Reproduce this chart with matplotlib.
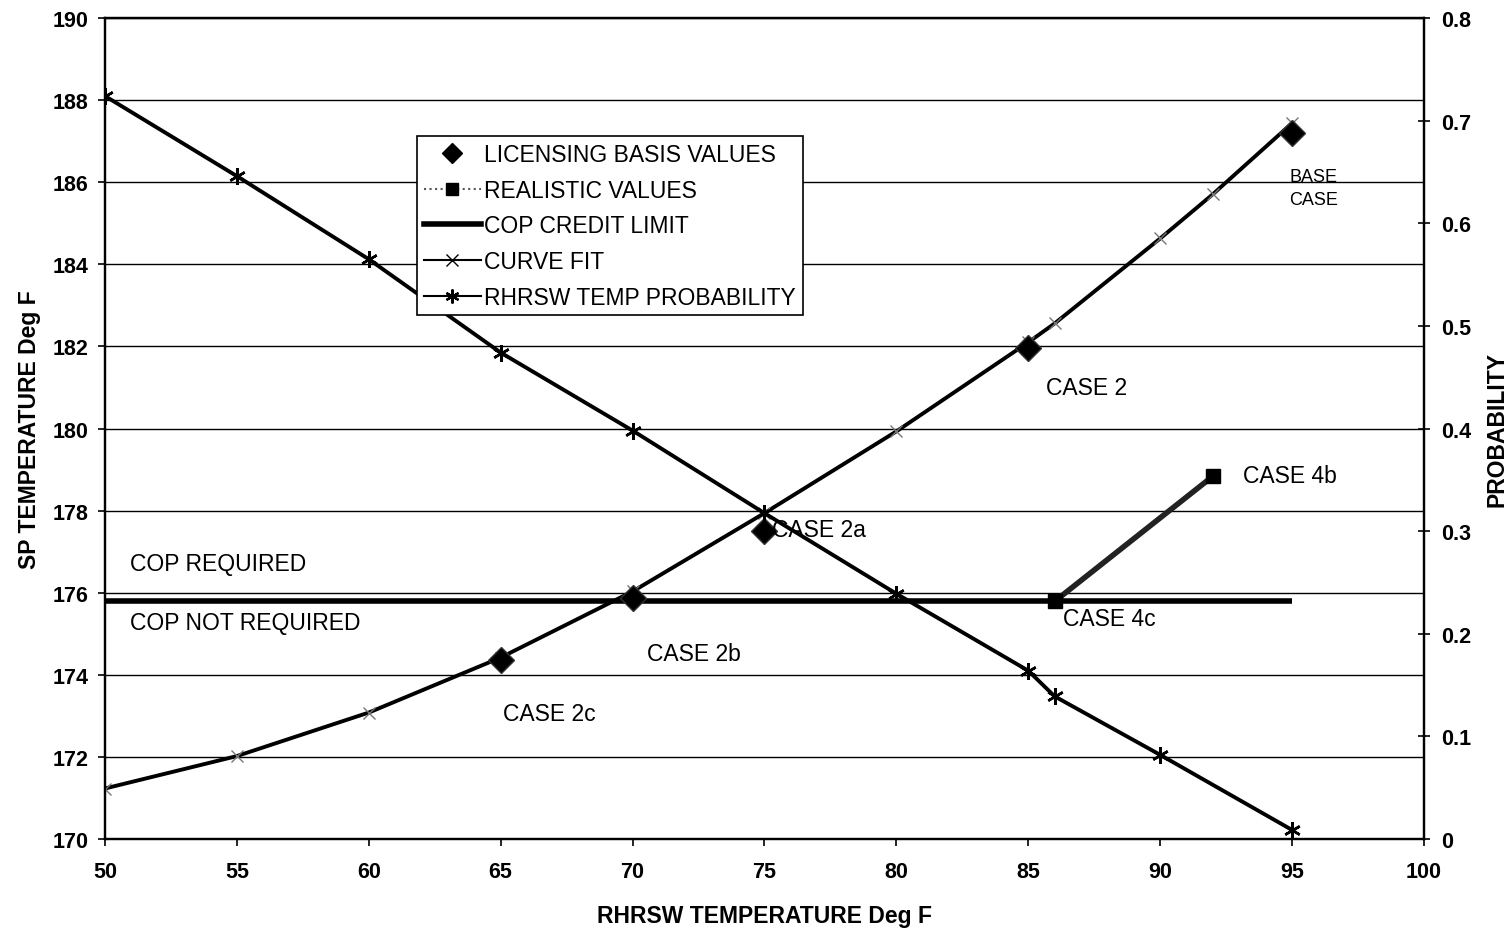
import matplotlib
matplotlib.use("Agg")
import matplotlib.pyplot as plt
from matplotlib.lines import Line2D

plt.rcParams['font.family'] = ['Liberation Sans', 'DejaVu Sans']

# ---- data ----
fit_x = [50, 55, 60, 65, 70, 75, 80, 85, 86, 90, 92, 95]
fit_y = [171.23, 172.02, 173.08, 174.42, 176.03, 177.94, 179.93, 182.1, 182.56, 184.63, 185.71, 187.44]

lic_x = [65, 70, 75, 85, 95]
lic_y = [174.35, 175.87, 177.5, 181.95, 187.2]

real_x = [86, 92]
real_y = [175.79, 178.84]

cop_x = [50, 95]
cop_y = [175.8, 175.8]

prob_x = [50, 55, 60, 65, 70, 75, 80, 85, 86, 90, 95]
prob_y = [0.724, 0.646, 0.565, 0.474, 0.398, 0.3175, 0.239, 0.164, 0.139, 0.082, 0.0088]

x_ticks = [50, 55, 60, 65, 70, 75, 80, 85, 90, 95, 100]
y_ticks = [170, 172, 174, 176, 178, 180, 182, 184, 186, 188, 190]
p_ticks = [0, 0.1, 0.2, 0.3, 0.4, 0.5, 0.6, 0.7, 0.8]
p_labels = ["0", "0.1", "0.2", "0.3", "0.4", "0.5", "0.6", "0.7", "0.8"]

annotations = [
    ("CASE 2", 87.2, 181.0, 'center'),
    ("CASE 4b", 94.9, 178.85, 'center'),
    ("CASE 2a", 75.3, 177.54, 'left'),
    ("COP REQUIRED", 50.95, 176.7, 'left'),
    ("COP NOT REQUIRED", 50.95, 175.27, 'left'),
    ("CASE 4c", 86.3, 175.37, 'left'),
    ("CASE 2b", 72.33, 174.51, 'center'),
    ("CASE 2c", 66.83, 173.05, 'center'),
]

# ---- figure ----
fig = plt.figure(figsize=(15.12, 9.29), dpi=100)
ax = fig.add_axes([0.0694, 0.0958, 0.8724, 0.8837])
ax2 = ax.twinx()

ax.set_xlim(50, 100)
ax.set_ylim(170, 190)
ax2.set_ylim(0, 0.8)

ax.set_xticks(x_ticks)
ax.set_yticks(y_ticks)
ax2.set_yticks(p_ticks)
ax2.set_yticklabels(p_labels)

for a in (ax, ax2):
    for s in a.spines.values():
        s.set_linewidth(1.6)
        s.set_color('black')

ax.yaxis.grid(True, color='black', linewidth=1.0)
ax.set_axisbelow(True)

ax.tick_params(axis='y', direction='out', length=5, width=1.2, pad=7,
               labelsize=15.5)
ax.tick_params(axis='x', direction='out', length=5, width=1.2, pad=11,
               labelsize=15.5)
ax2.tick_params(axis='y', direction='inout', length=9, width=1.2, pad=8,
                labelsize=15.5)
for lab in ax.get_xticklabels() + ax.get_yticklabels() + ax2.get_yticklabels():
    lab.set_fontweight('bold')

# lines on primary axis
ax.plot(cop_x, cop_y, color='black', linewidth=4, solid_capstyle='butt', zorder=3)
ax.plot(fit_x, fit_y, color='black', linewidth=2.8, marker='x',
        markersize=9, markeredgewidth=1.0, markeredgecolor='#777777', zorder=4)
ax.plot(real_x, real_y, color='#222222', linewidth=4, marker='s',
        markersize=10, markerfacecolor='black', markeredgecolor='black', zorder=5)
ax.plot(lic_x, lic_y, linestyle='none', marker='D', markersize=13,
        markerfacecolor='black', markeredgecolor='#333333', zorder=5)

# probability on secondary axis
ax2.plot(prob_x, prob_y, color='black', linewidth=2.8,
         marker=(6, 2, 0), markersize=12, markeredgewidth=1.8, zorder=4)

for txt, x, y, ha in annotations:
    ax.text(x, y, txt, fontsize=16.5, ha=ha, va='center', zorder=6)
ax.text(95.8, 185.85, "BASE\nCASE", fontsize=13, ha='center', va='center',
        linespacing=1.45, zorder=6)

ax.set_xlabel("RHRSW TEMPERATURE Deg F", fontsize=16.5, fontweight='bold', labelpad=16)
ax.set_ylabel("SP TEMPERATURE Deg F", fontsize=16.5, fontweight='bold', labelpad=8)
ax2.set_ylabel("PROBABILITY", fontsize=16.5, fontweight='bold', labelpad=10)

# legend
lic_handle = Line2D([], [], linestyle='none', marker='D', markersize=10,
                    markerfacecolor='black', markeredgecolor='black')
real_handle = Line2D([], [], color='#555555', linewidth=1.5, linestyle=':',
                     marker='s', markersize=8, markerfacecolor='black',
                     markeredgecolor='black')
cop_handle = Line2D([], [], color='black', linewidth=4)
fit_handle = Line2D([], [], color='black', linewidth=1.5, marker='x',
                    markersize=8, markeredgewidth=1.0)
prob_handle = Line2D([], [], color='black', linewidth=1.5, marker=(6, 2, 0),
                     markersize=10, markeredgewidth=1.6)
leg = ax2.legend([lic_handle, real_handle, cop_handle, fit_handle, prob_handle],
                 ['LICENSING BASIS VALUES', 'REALISTIC VALUES', 'COP CREDIT LIMIT',
                  'CURVE FIT', 'RHRSW TEMP PROBABILITY'],
                 loc='upper left', bbox_to_anchor=(0.2365, 0.856),
                 fontsize=16.5, frameon=True, fancybox=False, framealpha=1,
                 edgecolor='black', handlelength=2.5, handletextpad=0.15,
                 labelspacing=0.55, borderpad=0.3, borderaxespad=0)
leg.get_frame().set_linewidth(1.2)
leg.set_zorder(10)

fig.savefig("out.png", dpi=100)
